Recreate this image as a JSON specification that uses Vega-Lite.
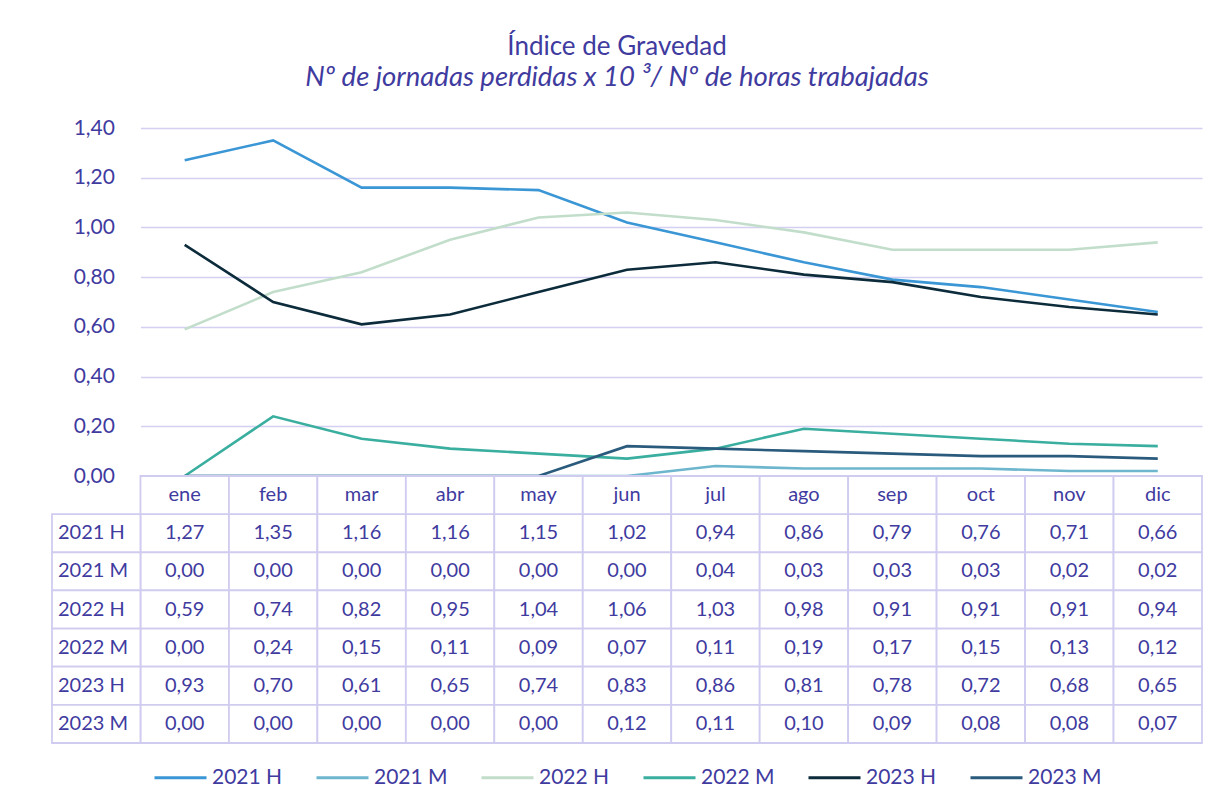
{
  "$schema": "https://vega.github.io/schema/vega-lite/v6.json",
  "background": "white",
  "padding": {"left": 51, "top": 33, "right": 20, "bottom": 10},
  "autosize": {"type": "pad"},
  "title": {
    "text": "Índice de Gravedad",
    "subtitle": "Nº de jornadas perdidas x 10 ³/ Nº de horas trabajadas",
    "anchor": "middle",
    "dx": -10,
    "font": "Lato",
    "fontSize": 26,
    "fontWeight": "normal",
    "color": "#3F3B9F",
    "subtitleFont": "Lato",
    "subtitleFontSize": 27.5,
    "subtitleFontStyle": "italic",
    "subtitleColor": "#3F3B9F",
    "subtitlePadding": 4,
    "offset": 26
  },
  "data": {
    "values": [
      {"month": "ene", "series": "2021 H", "value": 1.27},
      {"month": "feb", "series": "2021 H", "value": 1.35},
      {"month": "mar", "series": "2021 H", "value": 1.16},
      {"month": "abr", "series": "2021 H", "value": 1.16},
      {"month": "may", "series": "2021 H", "value": 1.15},
      {"month": "jun", "series": "2021 H", "value": 1.02},
      {"month": "jul", "series": "2021 H", "value": 0.94},
      {"month": "ago", "series": "2021 H", "value": 0.86},
      {"month": "sep", "series": "2021 H", "value": 0.79},
      {"month": "oct", "series": "2021 H", "value": 0.76},
      {"month": "nov", "series": "2021 H", "value": 0.71},
      {"month": "dic", "series": "2021 H", "value": 0.66},
      {"month": "ene", "series": "2021 M", "value": 0.0},
      {"month": "feb", "series": "2021 M", "value": 0.0},
      {"month": "mar", "series": "2021 M", "value": 0.0},
      {"month": "abr", "series": "2021 M", "value": 0.0},
      {"month": "may", "series": "2021 M", "value": 0.0},
      {"month": "jun", "series": "2021 M", "value": 0.0},
      {"month": "jul", "series": "2021 M", "value": 0.04},
      {"month": "ago", "series": "2021 M", "value": 0.03},
      {"month": "sep", "series": "2021 M", "value": 0.03},
      {"month": "oct", "series": "2021 M", "value": 0.03},
      {"month": "nov", "series": "2021 M", "value": 0.02},
      {"month": "dic", "series": "2021 M", "value": 0.02},
      {"month": "ene", "series": "2022 H", "value": 0.59},
      {"month": "feb", "series": "2022 H", "value": 0.74},
      {"month": "mar", "series": "2022 H", "value": 0.82},
      {"month": "abr", "series": "2022 H", "value": 0.95},
      {"month": "may", "series": "2022 H", "value": 1.04},
      {"month": "jun", "series": "2022 H", "value": 1.06},
      {"month": "jul", "series": "2022 H", "value": 1.03},
      {"month": "ago", "series": "2022 H", "value": 0.98},
      {"month": "sep", "series": "2022 H", "value": 0.91},
      {"month": "oct", "series": "2022 H", "value": 0.91},
      {"month": "nov", "series": "2022 H", "value": 0.91},
      {"month": "dic", "series": "2022 H", "value": 0.94},
      {"month": "ene", "series": "2022 M", "value": 0.0},
      {"month": "feb", "series": "2022 M", "value": 0.24},
      {"month": "mar", "series": "2022 M", "value": 0.15},
      {"month": "abr", "series": "2022 M", "value": 0.11},
      {"month": "may", "series": "2022 M", "value": 0.09},
      {"month": "jun", "series": "2022 M", "value": 0.07},
      {"month": "jul", "series": "2022 M", "value": 0.11},
      {"month": "ago", "series": "2022 M", "value": 0.19},
      {"month": "sep", "series": "2022 M", "value": 0.17},
      {"month": "oct", "series": "2022 M", "value": 0.15},
      {"month": "nov", "series": "2022 M", "value": 0.13},
      {"month": "dic", "series": "2022 M", "value": 0.12},
      {"month": "ene", "series": "2023 H", "value": 0.93},
      {"month": "feb", "series": "2023 H", "value": 0.70},
      {"month": "mar", "series": "2023 H", "value": 0.61},
      {"month": "abr", "series": "2023 H", "value": 0.65},
      {"month": "may", "series": "2023 H", "value": 0.74},
      {"month": "jun", "series": "2023 H", "value": 0.83},
      {"month": "jul", "series": "2023 H", "value": 0.86},
      {"month": "ago", "series": "2023 H", "value": 0.81},
      {"month": "sep", "series": "2023 H", "value": 0.78},
      {"month": "oct", "series": "2023 H", "value": 0.72},
      {"month": "nov", "series": "2023 H", "value": 0.68},
      {"month": "dic", "series": "2023 H", "value": 0.65},
      {"month": "ene", "series": "2023 M", "value": 0.0},
      {"month": "feb", "series": "2023 M", "value": 0.0},
      {"month": "mar", "series": "2023 M", "value": 0.0},
      {"month": "abr", "series": "2023 M", "value": 0.0},
      {"month": "may", "series": "2023 M", "value": 0.0},
      {"month": "jun", "series": "2023 M", "value": 0.12},
      {"month": "jul", "series": "2023 M", "value": 0.11},
      {"month": "ago", "series": "2023 M", "value": 0.10},
      {"month": "sep", "series": "2023 M", "value": 0.09},
      {"month": "oct", "series": "2023 M", "value": 0.08},
      {"month": "nov", "series": "2023 M", "value": 0.08},
      {"month": "dic", "series": "2023 M", "value": 0.07}
    ]
  },
  "spacing": 0,
  "bounds": "flush",
  "resolve": {"scale": {"x": "independent", "y": "independent", "color": "shared"}},
  "vconcat": [
    {
      "width": 1150,
      "height": 348,
      "mark": {"type": "line", "strokeWidth": 2.6, "clip": false},
      "encoding": {
        "x": {
          "field": "month",
          "type": "nominal",
          "sort": null,
          "scale": {"type": "band", "domain": ["ene","feb","mar","abr","may","jun","jul","ago","sep","oct","nov","dic"], "range": [88.46, 1150], "paddingInner": 0, "paddingOuter": 0},
          "axis": null
        },
        "y": {
          "field": "value",
          "type": "quantitative",
          "scale": {"domain": [0, 1.4], "nice": false},
          "axis": {
            "title": null,
            "offset": -88.46,
            "values": [0, 0.2, 0.4, 0.6, 0.8, 1.0, 1.2, 1.4],
            "labelExpr": "replace(format(datum.value, '.2f'), '.', ',')",
            "domain": false,
            "ticks": false,
            "labelPadding": 26,
            "labelFont": "Lato",
            "labelFontSize": 21,
            "labelColor": "#3F3B9F",
            "grid": true,
            "gridColor": "#D3D0F2",
            "gridWidth": 1.6
          }
        },
        "color": {
          "field": "series",
          "type": "nominal",
          "scale": {
            "domain": ["2021 H", "2021 M", "2022 H", "2022 M", "2023 H", "2023 M"],
            "range": ["#3A96D4", "#6DB6CE", "#C2DECB", "#3AAE9F", "#0C2B3B", "#2A5B7D"]
          },
          "legend": {
            "title": null,
            "orient": "bottom",
            "direction": "horizontal",
            "symbolType": "stroke",
            "symbolSize": 2704,
            "symbolStrokeWidth": 3,
            "labelFont": "Lato",
            "labelFontSize": 21,
            "labelColor": "#3F3B9F",
            "labelOffset": 4,
            "columnPadding": 27,
            "offset": 6
          }
        }
      }
    },
    {
      "width": 1150,
      "height": 267,
      "encoding": {
        "x": {
          "field": "month",
          "type": "nominal",
          "sort": null,
          "scale": {"type": "band", "domain": [" ", "ene","feb","mar","abr","may","jun","jul","ago","sep","oct","nov","dic"], "paddingInner": 0, "paddingOuter": 0},
          "axis": null
        },
        "y": {
          "field": "series",
          "type": "nominal",
          "scale": {"type": "band", "domain": ["hdr", "2021 H", "2021 M", "2022 H", "2022 M", "2023 H", "2023 M"], "paddingInner": 0, "paddingOuter": 0},
          "axis": null
        }
      },
      "layer": [
        {
          "mark": {"type": "rect", "fill": "white", "stroke": "#D0CCF0", "strokeWidth": 1.8}
        },
        {
          "transform": [{"aggregate": [], "groupby": ["month"]}],
          "mark": {"type": "rect", "fill": "white", "stroke": "#D0CCF0", "strokeWidth": 1.8},
          "encoding": {"y": {"datum": "hdr"}}
        },
        {
          "transform": [{"aggregate": [], "groupby": ["series"]}],
          "mark": {"type": "rect", "fill": "white", "stroke": "#D0CCF0", "strokeWidth": 1.8},
          "encoding": {"x": {"datum": " "}}
        },
        {
          "mark": {"type": "text", "font": "Lato", "fontSize": 20, "color": "#3F3B9F"},
          "encoding": {
            "text": {"field": "value", "type": "quantitative", "format": ".2f", "formatType": "number"}
          }
        },
        {
          "transform": [{"aggregate": [], "groupby": ["month"]}],
          "mark": {"type": "text", "font": "Lato", "fontSize": 20, "color": "#3F3B9F"},
          "encoding": {"y": {"datum": "hdr"}, "text": {"field": "month"}}
        },
        {
          "transform": [{"aggregate": [], "groupby": ["series"]}],
          "mark": {"type": "text", "font": "Lato", "fontSize": 20, "color": "#3F3B9F", "align": "left", "dx": 6},
          "encoding": {"x": {"datum": " ", "bandPosition": 0}, "text": {"field": "series"}}
        }
      ]
    }
  ],
  "config": {
    "view": {"stroke": null},
    "locale": {"number": {"decimal": ",", "thousands": ".", "grouping": [3], "currency": ["", " €"]}},
    "legend": {"layout": {"bottom": {"anchor": "middle"}}}
  }
}
